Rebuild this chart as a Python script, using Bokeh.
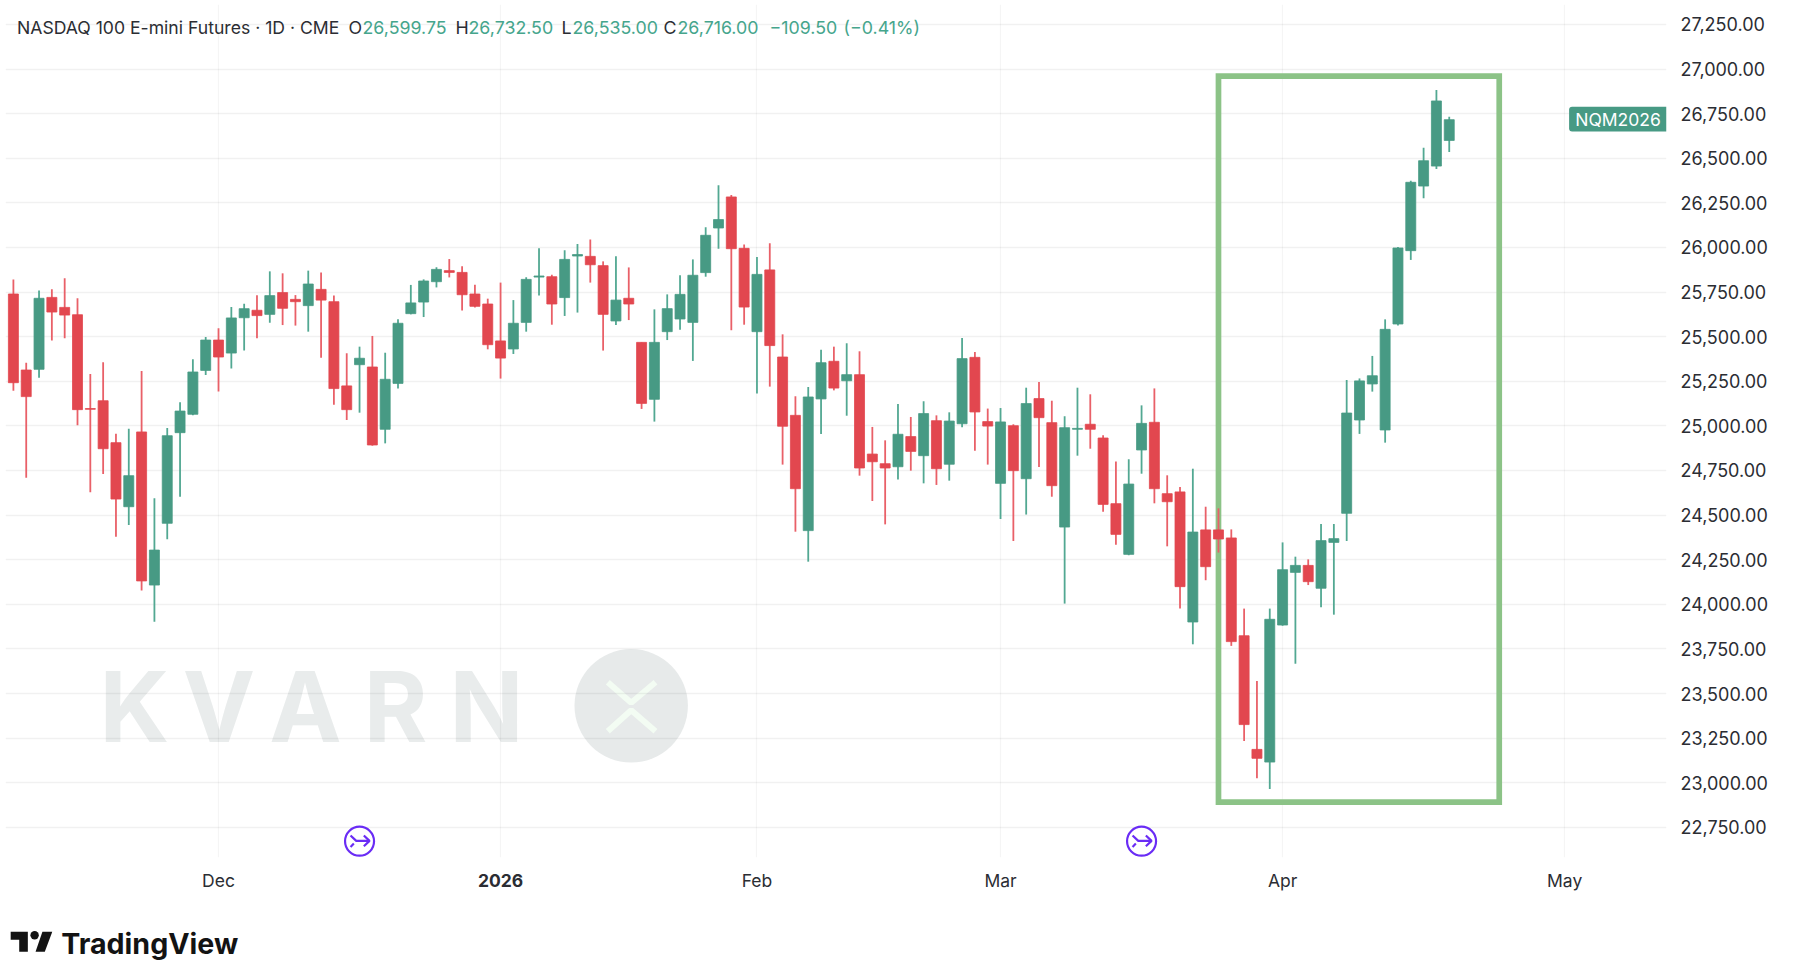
from bokeh.plotting import figure
from bokeh.layouts import column
from bokeh.models import (BoxAnnotation, ColumnDataSource, FixedTicker, Label, LinearAxis,
                          NumeralTickFormatter, Range1d)
from bokeh.core.properties import value
from bokeh.embed import file_html
from bokeh.resources import INLINE

# ---- data: daily OHLC ------------------------------------------------------
opens = [25739,25313,25317,25720,25664,25623,25097,25141,24906,24547,
         24966,24108,24454,24962,25065,25311,25481,25408,25606,25648,
         25625,25747,25709,25674,25765,25696,25224,25343,25330,24981,
         25238,25629,25694,25808,25870,25860,25739,25683,25476,25431,
         25580,25834,25836,25719,25952,25950,25898,25588,25715,25468,
         25149,25528,25599,25580,25859,26109,26283,25995,25528,25874,
         25386,25059,24413,25151,25362,25253,25287,24842,24788,24771,
         24940,24833,25029,24785,25012,25384,25024,24678,25001,24704,
         25153,25018,24433,24981,25009,24932,24564,24280,24865,25020,
         24620,24630,23901,24417,24417,24372,23824,23187,23116,23884,
         24179,24218,24090,24347,24510,25033,25235,24977,25571,25982,
         26344,26456,26599.75]
highs = [25821,25354,25758,25765,25827,25715,25291,25356,24956,24984,
         25308,24594,24988,25132,25373,25498,25547,25666,25685,25732,
         25866,25855,25733,25870,25860,25730,25407,25444,25504,25410,
         25597,25790,25821,25889,25935,25894,25791,25713,25803,25705,
         25833,25995,25847,25984,26019,26045,25922,25950,25888,25468,
         25653,25737,25844,25933,26113,26348,26294,26016,25946,26023,
         25513,25166,25218,25427,25444,25463,25418,24994,24919,25123,
         25050,25138,25059,25076,25493,25414,25097,25100,25009,25214,
         25246,25141,25054,25214,25177,24947,24801,24813,25115,25210,
         24723,24658,24760,24547,24538,24420,23976,23570,23976,24347,
         24267,24252,24450,24450,25257,25266,25392,25597,26002,26374,
         26559,26882,26732.5]
lows = [25197,24710,25270,25479,25491,25003,24628,24730,24379,24445,
        24077,23903,24364,24603,25060,25285,25192,25322,25422,25491,
        25578,25565,25562,25528,25382,25119,25033,25074,24889,24902,
        25210,25625,25610,25776,25832,25646,25664,25429,25265,25403,
        25528,25730,25567,25616,25635,25803,25422,25565,25593,25095,
        25024,25481,25539,25364,25836,25993,25536,25567,25181,25220,
        24783,24407,24239,24955,25199,25057,24721,24579,24448,24700,
        24749,24678,24669,24693,24992,24861,24783,24478,24355,24503,
        24770,24603,24004,24833,24872,24519,24334,24275,24732,24566,
        24325,23976,23776,24135,24290,23767,23234,23025,22965,23880,
        23667,24108,23983,23942,24355,24955,25192,24906,25562,25930,
        26275,26440,26535]
closes = [25242,25164,25715,25638,25621,25091,25093,24872,24590,24721,
          24131,24304,24945,25083,25302,25481,25386,25605,25657,25618,
          25730,25659,25696,25795,25705,25209,25091,25379,24893,25261,
          25575,25689,25812,25877,25860,25735,25670,25455,25380,25575,
          25821,25840,25683,25933,25960,25903,25625,25705,25683,25126,
          25468,25657,25737,25844,26068,26156,25993,25666,25849,25450,
          24998,24648,25162,25354,25212,25287,24764,24799,24764,24953,
          24857,25069,24760,25027,25377,25078,24999,25022,24749,25125,
          25046,24665,24990,24986,24981,24560,24392,24674,25014,24648,
          24575,24099,24405,24211,24366,23791,23326,23137,23916,24194,
          24218,24127,24357,24368,25072,25252,25281,25541,25997,26365,
          26486,26821,26716]
price_ticks = [22750,23000,23250,23500,23750,24000,24250,24500,24750,25000,
               25250,25500,25750,26000,26250,26500,26750,27000,27250]
month_bars = [16, 58, 77, 99, 121]
month_labels = ["Dec", "Feb", "Mar", "Apr", "May"]
year_bar = 38
year_label = "2026"
event_bars = [27, 88]
box_bars = (94, 115.9)
box_prices = (22891, 26960)
header_title = "NASDAQ 100 E-mini Futures · 1D · CME"
header_vals = ["26,599.75", "26,732.50", "26,535.00", "26,716.00"]
symbol_tag = "NQM2026"

# ---- page-pixel calibration ------------------------------------------------
BAR0 = 13.9
Y27K = 69.5
def xp(px):
    return (px - BAR0) / 12.82
def yp(py):
    return 27000 - (py - Y27K) / 0.17844

UP, UP_W = "#479a84", "#52a892"
DN, DN_W = "#e2474f", "#e96068"
GRID = "#000000"
TEXT = "#2b2d33"
FONT = "Inter"

p = figure(width=1790, height=905, output_backend="svg", toolbar_location=None,
           x_range=Range1d(xp(6), xp(1667)), y_range=Range1d(yp(858), yp(5)),
           y_axis_location="right", min_border_left=6, min_border_top=5,
           min_border_right=123, min_border_bottom=47,
           background_fill_color="white", border_fill_color="white")
p.styles = {"margin": "-1px 0 0 -1px", "outline": "1.5px solid #f0f1f3", "outline-offset": "-5px"}
p.outline_line_color = None

# axes
p.yaxis.ticker = FixedTicker(ticks=price_ticks)
p.yaxis.formatter = NumeralTickFormatter(format="0,0.00")
p.xaxis.ticker = FixedTicker(ticks=month_bars)
p.xaxis.major_label_overrides = dict(zip(month_bars, month_labels))
year_axis = LinearAxis(ticker=FixedTicker(ticks=[year_bar]),
                       major_label_overrides={year_bar: year_label})
p.add_layout(year_axis, "below")
for ax in (p.xaxis[0], p.yaxis[0], year_axis):
    ax.axis_line_color = None
    ax.major_tick_line_color = None
    ax.minor_tick_line_color = None
    ax.major_label_text_font = FONT
    ax.major_label_text_color = TEXT
p.yaxis.major_label_text_font_size = "18px"
p.xaxis.major_label_text_font_size = "17.5px"
year_axis.major_label_text_font_style = "bold"
p.yaxis.major_label_standoff = 8
p.xaxis.major_label_standoff = 6
year_axis.major_label_standoff = -26

p.xgrid.ticker = FixedTicker(ticks=month_bars + [year_bar])
p.ygrid.ticker = FixedTicker(ticks=price_ticks)
p.xgrid.grid_line_color = GRID
p.xgrid.grid_line_alpha = 0.04
p.xgrid.grid_line_width = 1.2
p.ygrid.grid_line_color = GRID
p.ygrid.grid_line_alpha = 0.055
p.ygrid.grid_line_width = 1.7

# watermark
for ch, c in zip("KVARN", [135, 219.5, 306, 396, 487]):
    p.add_layout(Label(x=xp(c), y=yp(706.5), text=ch, text_font=FONT, text_font_size="97px",
                       text_font_style="bold", text_color="#e9ecec", text_align="center",
                       text_baseline="middle", level="image"))
p.scatter([xp(631.7)], [yp(706.3)], marker="circle", size=113.4, fill_color="#e7eaea",
          line_color=None, level="image")
p.multi_line([[xp(608.3), xp(631.7), xp(656)], [xp(608.3), xp(631.7), xp(656)]],
             [[yp(682.7), yp(703.3), yp(682.7)], [yp(731.7), yp(710.7), yp(731.7)]],
             line_color="#f3fcf3", line_width=6, level="image")

# highlight box, under the candles
p.quad(left=[box_bars[0]], right=[box_bars[1]], bottom=[box_prices[0]], top=[box_prices[1]],
       fill_color=None, line_color="#8cc387", line_width=5.7, line_join="miter")

# candles
idx = list(range(len(opens)))
src = ColumnDataSource(dict(
    x=idx, high=highs, low=lows,
    top=[max(o, c) for o, c in zip(opens, closes)],
    bottom=[min(o, c) for o, c in zip(opens, closes)],
    body=[UP if c >= o else DN for o, c in zip(opens, closes)],
    wick=[UP_W if c >= o else DN_W for o, c in zip(opens, closes)],
))
p.segment("x", "low", "x", "high", source=src, line_color="wick", line_width=1.8)
p.vbar("x", width=0.78, top="top", bottom="bottom", source=src, fill_color="body",
       line_color="body", line_width=0.8)

# event icons
PURPLE = "#6a2cf5"
ey = 841.7
p.scatter(event_bars, [yp(ey)] * len(event_bars), marker="circle", size=29,
          fill_color="white", line_color=PURPLE, line_width=2.2)
for b in event_bars:
    cx = BAR0 + 12.82 * b
    strokes = [[(-9, -5.7), (-3.3, -0.3), (9.3, -0.3)],
               [(4.3, -5.7), (10, -0.3), (4.3, 5)],
               [(-9, 5.7), (-5.7, 2.3)]]
    p.multi_line([[xp(cx + d[0]) for d in s] for s in strokes],
                 [[yp(ey + d[1]) for d in s] for s in strokes],
                 line_color=PURPLE, line_width=2.2)

# symbol tag
p.add_layout(BoxAnnotation(left=xp(1569.6), right=xp(1667), top=yp(107.3), bottom=yp(132),
                           fill_color=UP, fill_alpha=1, line_color=None,
                           border_radius=dict(top_left=3, bottom_left=3, top_right=0, bottom_right=0)))
p.add_layout(Label(x=xp(1618.5), y=yp(120), text=symbol_tag, text_font=FONT, text_font_size="17.5px",
                   text_color="white", text_align="center", text_baseline="middle"))

# header
GREEN_T = "#45a58c"
def hdr(px, s, col, size="17.8px"):
    p.add_layout(Label(x=xp(px), y=yp(27.7), text=s, text_font=FONT, text_font_size=size,
                       text_color=col, text_align="left", text_baseline="middle"))
hdr(17.5, header_title, TEXT, "17.6px")
for lab_px, lab, val_px, val in zip([349, 456, 562, 664], "OHLC", [363, 469, 573, 678], header_vals):
    hdr(lab_px, lab, TEXT)
    hdr(val_px, val, GREEN_T)
hdr(770, "−109.50", GREEN_T)
hdr(844, "(−0.41%)", GREEN_T)

# footer: TradingView mark and word
K = "#131313"
f = figure(width=1790, height=60, output_backend="svg", toolbar_location=None,
           x_range=Range1d(0, 1790), y_range=Range1d(60, 0), x_axis_type=None, y_axis_type=None,
           min_border_left=0, min_border_right=0, min_border_top=0, min_border_bottom=0,
           background_fill_color="white", border_fill_color="white")
f.outline_line_color = None
f.grid.visible = False
Y0 = 905.5
XF = 3
f.patches([[v - XF for v in (7.5, 26, 26, 16.7, 16.7, 7.5)], [v - XF for v in (41.7, 52.3, 44.3, 34.3)]],
          [[v - Y0 for v in (932.7, 932.7, 952.7, 952.7, 940.7, 940.7)],
           [v - Y0 for v in (932.7, 932.7, 952.7, 952.7)]],
          fill_color=K, line_color=None)
f.scatter([33.3 - XF], [936.3 - Y0], marker="circle", size=8.4, fill_color=K, line_color=None)
f.text([62 - XF], [944 - Y0], text=["TradingView"], text_font=value(FONT), text_font_size="28.6px",
       text_font_style="bold", text_color=K, text_align="left", text_baseline="middle")

layout = column(p, f, spacing=0)
open("out.html", "w").write(file_html(layout, INLINE))
